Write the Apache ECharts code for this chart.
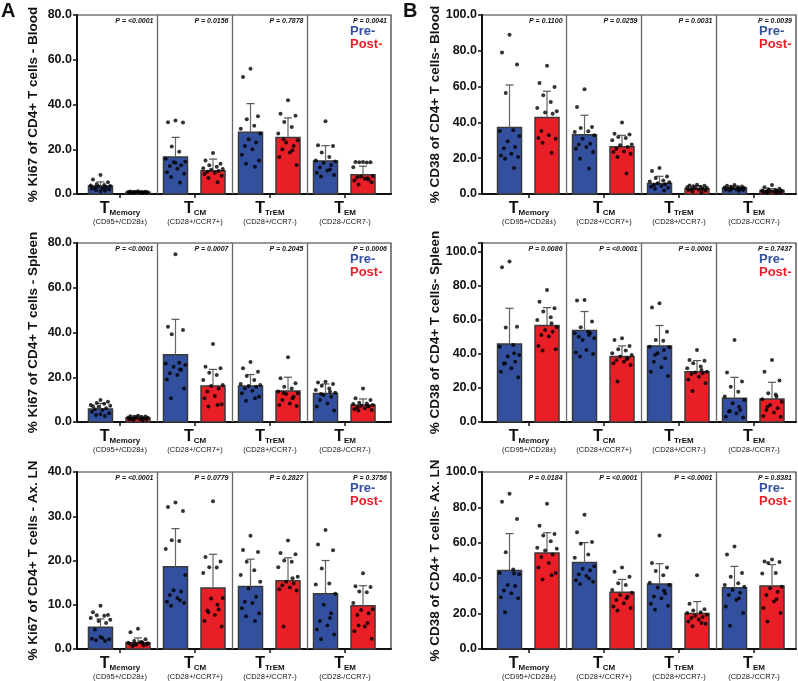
<!DOCTYPE html>
<html>
<head>
<meta charset="utf-8">
<script src="https://cdn.jsdelivr.net/npm/echarts@6/dist/echarts.min.js"></script>
<style>
  html, body { margin: 0; padding: 0; background: #fff; }
  #chart { width: 798px; height: 681px; }
</style>
</head>
<body>
<div id="chart"></div>
<script>
// ---- data ----
const subsets = ['Memory', 'CM', 'TrEM', 'EM'];
const phenotypes = ['(CD95+/CD28±)', '(CD28+/CCR7+)', '(CD28+/CCR7-)', '(CD28-/CCR7-)'];

// panel order: A-blood, B-blood, A-spleen, B-spleen, A-LN, B-LN
const yTitles = [
  '% Ki67 of CD4+ T cells - Blood', '% CD38 of CD4+ T cells- Blood',
  '% Ki67 of CD4+ T cells - Spleen', '% CD38 of CD4+ T cells- Spleen',
  '% Ki67 of CD4+ T cells - Ax. LN', '% CD38 of CD4+ T cells- Ax. LN'
];
const yMax = [80, 100, 80, 105, 40, 100];
const yStep = [20, 20, 20, 20, 10, 20];

const pValues = [
  ['<0.0001', '0.0156', '0.7878', '0.0041'],
  ['0.1100', '0.0259', '0.0031', '0.0039'],
  ['<0.0001', '0.0007', '0.2045', '0.0006'],
  ['0.0086', '<0.0001', '0.0001', '0.7437'],
  ['<0.0001', '0.0779', '0.2827', '0.3756'],
  ['0.0184', '<0.0001', '<0.0001', '0.8381']
];

const preMean = [
  [3.6, 16.5, 27.6, 14.8], [37.1, 33.1, 5.8, 3.3],
  [5.8, 30.1, 16.1, 12.7], [45.8, 53.6, 44.6, 13.9],
  [4.9, 18.6, 14.1, 12.5], [44.3, 48.8, 36.7, 34.6]
];
const preSD = [
  [1.8, 8.8, 12.8, 6.8], [23.8, 10.9, 4.1, 1.1],
  [2.5, 15.8, 5.1, 4.3], [20.9, 11.2, 12.0, 12.3],
  [1.9, 8.6, 6.2, 7.5], [20.9, 11.3, 11.5, 12.1]
];
const postMean = [
  [0.8, 10.4, 25.3, 8.6], [42.8, 26.4, 3.0, 1.9],
  [1.8, 16.1, 13.9, 7.6], [56.6, 38.4, 29.5, 13.5],
  [1.4, 13.8, 15.4, 9.8], [54.2, 32.0, 20.1, 35.6]
];
const postSD = [
  [0.4, 5.2, 8.7, 3.8], [14.6, 6.4, 1.5, 1.1],
  [0.9, 7.4, 6.1, 2.7], [10.5, 6.2, 6.5, 9.8],
  [1.1, 7.6, 5.2, 4.5], [11.5, 7.3, 6.7, 12.1]
];

const ki67BloodPre = [
  [8.5, 6.5, 5.2, 4.4, 4.0, 3.8, 3.6, 3.3, 3.0, 2.8, 2.6, 2.4, 2.0, 1.8, 1.5, 1.2],
  [32.8, 32.1, 31.9, 21.2, 18.9, 15.8, 14.4, 14.2, 12.8, 12.5, 11.3, 9.7, 9.0, 7.6, 5.1, 14.0],
  [56.0, 52.3, 34.7, 33.4, 30.5, 29.2, 27.0, 24.5, 23.0, 21.5, 20.0, 17.5, 15.0, 13.5, 12.2],
  [32.5, 21.8, 21.5, 18.5, 16.5, 15.0, 14.5, 13.8, 13.0, 11.8, 10.5, 9.5, 8.5, 7.8, 11.0]
];
const ki67BloodPost = [
  [1.2, 1.1, 1.0, 1.0, 0.9, 0.9, 0.8, 0.8, 0.8, 0.7, 0.7, 0.6, 0.6, 0.5, 0.5],
  [18.3, 15.0, 13.5, 12.8, 12.2, 11.5, 11.2, 10.8, 10.3, 10.0, 9.5, 8.9, 8.2, 7.2, 5.2],
  [41.9, 35.9, 35.0, 32.2, 30.0, 27.0, 24.0, 23.0, 21.5, 20.0, 18.5, 16.5, 13.0, 24.5, 19.5],
  [14.3, 14.3, 14.2, 14.2, 14.1, 12.0, 8.0, 7.8, 6.5, 7.5, 6.8, 6.0, 5.2, 4.2, 7.0]
];
const cd38BloodPre = [
  [89.0, 79.1, 72.4, 56.4, 35.6, 35.2, 32.4, 29.4, 26.3, 25.5, 22.5, 21.5, 20.7, 19.7, 14.5],
  [58.5, 48.6, 37.4, 36.9, 35.0, 34.6, 32.8, 30.9, 28.1, 27.7, 26.3, 25.3, 23.5, 19.7, 14.2],
  [14.5, 12.8, 9.8, 9.0, 7.5, 7.0, 6.5, 6.0, 5.5, 5.0, 4.5, 4.0, 3.5, 3.0, 2.0],
  [5.0, 4.6, 4.2, 4.0, 3.8, 3.6, 3.4, 3.2, 3.0, 2.8, 2.6, 2.4, 2.2, 2.0, 1.8]
];
const cd38BloodPost = [
  [71.7, 62.0, 59.8, 55.1, 51.4, 48.0, 46.2, 45.5, 44.9, 35.2, 32.8, 31.3, 30.9, 28.7, 23.1],
  [39.9, 33.7, 33.3, 31.8, 31.3, 30.0, 27.6, 27.2, 26.3, 25.3, 23.8, 23.5, 22.5, 20.7, 11.4],
  [5.2, 4.8, 4.6, 4.3, 4.0, 3.8, 3.5, 3.2, 3.0, 2.8, 2.5, 2.2, 2.0, 1.5, 1.0],
  [5.0, 3.8, 3.0, 2.6, 2.2, 2.0, 1.8, 1.6, 1.5, 1.3, 1.2, 1.0, 0.8, 0.6, 0.5]
];
const ki67SpleenPre = [
  [9.8, 7.0, 9.1, 8.5, 8.2, 7.6, 7.3, 6.8, 6.1, 5.7, 5.4, 4.6, 3.9, 3.1, 2.7, 3.5],
  [75.0, 42.6, 41.1, 39.2, 26.5, 26.2, 25.5, 24.7, 23.3, 21.8, 21.0, 19.0, 15.0, 10.6, 23.5],
  [26.8, 24.0, 22.5, 20.6, 18.8, 17.0, 16.5, 16.1, 15.8, 15.0, 14.0, 12.8, 11.3, 9.5, 10.6],
  [18.0, 17.6, 17.0, 16.2, 15.0, 14.3, 13.1, 12.1, 11.3, 9.8, 8.3, 6.9, 5.1, 12.5, 13.6]
];
const ki67SpleenPost = [
  [2.8, 2.6, 2.5, 2.3, 2.2, 2.0, 1.9, 1.8, 1.6, 1.5, 1.3, 1.2, 1.0, 0.9, 0.7],
  [34.9, 24.7, 24.0, 22.0, 21.0, 18.8, 16.5, 16.1, 15.0, 13.6, 11.6, 10.6, 7.9, 6.9, 7.6],
  [28.9, 19.5, 17.3, 15.8, 15.0, 13.6, 12.8, 12.5, 11.3, 9.8, 8.3, 7.6, 7.2, 13.0, 10.6],
  [15.0, 10.6, 9.8, 8.6, 8.3, 8.0, 7.6, 7.3, 6.9, 6.6, 6.1, 5.7, 5.4, 5.1, 7.2]
];
const cd38SpleenPre = [
  [94.1, 90.8, 55.8, 55.5, 45.2, 44.2, 39.3, 38.4, 35.4, 34.1, 31.5, 29.5, 26.2, 34.4, 40.3],
  [71.6, 71.2, 58.9, 55.6, 53.0, 52.1, 49.1, 48.1, 52.0, 50.0, 42.3, 40.7, 39.9, 38.4, 51.1],
  [69.7, 67.1, 53.0, 48.1, 47.7, 44.2, 43.8, 40.3, 37.4, 35.4, 32.1, 29.5, 27.0, 39.3, 42.3],
  [48.1, 29.0, 23.7, 20.7, 17.8, 14.9, 12.9, 11.0, 7.0, 6.1, 5.1, 3.1, 2.7, 6.5, 9.0]
];
const cd38SpleenPost = [
  [77.5, 70.6, 66.7, 64.8, 61.4, 59.9, 55.6, 54.0, 53.0, 51.1, 50.1, 44.6, 42.7, 41.9, 57.9],
  [49.1, 48.1, 44.6, 42.7, 41.9, 40.3, 39.3, 38.4, 37.4, 36.4, 35.4, 34.4, 33.5, 23.7, 37.0],
  [42.3, 36.4, 36.0, 34.4, 32.5, 31.5, 29.5, 29.0, 28.6, 28.2, 26.6, 25.0, 22.7, 18.2, 30.5],
  [36.4, 29.5, 24.3, 16.8, 16.2, 13.3, 11.9, 10.0, 8.0, 7.0, 5.5, 3.5, 3.1, 9.0, 14.9]
];
const ki67LnPre = [
  [9.8, 8.3, 7.7, 7.6, 7.5, 7.0, 6.6, 6.3, 5.9, 4.4, 2.5, 2.3, 2.2, 2.0, 1.8, 2.7],
  [33.1, 32.1, 31.2, 24.6, 24.4, 22.6, 16.7, 13.3, 13.0, 12.2, 11.5, 10.7, 10.4, 9.8, 11.0],
  [25.6, 22.4, 21.9, 19.7, 17.8, 16.7, 15.2, 13.7, 11.8, 10.7, 10.4, 9.2, 8.1, 7.4, 6.3],
  [26.9, 23.6, 22.3, 18.2, 14.8, 14.6, 12.5, 10.0, 8.1, 6.3, 5.3, 4.4, 3.3, 2.2, 7.0]
];
const ki67LnPost = [
  [4.6, 3.8, 2.2, 1.8, 1.6, 1.4, 1.3, 1.0, 0.8, 0.7, 1.5, 1.2, 1.1, 0.9, 1.4],
  [33.4, 20.8, 19.8, 18.5, 18.4, 17.2, 11.5, 11.4, 8.9, 8.7, 7.7, 6.3, 5.1, 8.3, 10.0],
  [24.5, 21.7, 21.4, 20.0, 19.7, 18.5, 16.3, 15.2, 14.8, 14.4, 13.9, 13.5, 13.2, 5.1, 16.0],
  [17.1, 14.2, 14.0, 13.0, 12.8, 10.4, 9.0, 8.8, 8.1, 7.7, 5.1, 4.0, 2.3, 5.3, 5.9]
];
const cd38LnPre = [
  [87.7, 83.2, 73.4, 54.7, 44.9, 43.0, 42.3, 36.1, 35.6, 33.0, 31.5, 29.2, 28.7, 20.7, 42.6],
  [75.8, 65.9, 60.5, 59.4, 53.4, 51.6, 46.7, 45.4, 44.5, 42.3, 41.2, 38.9, 38.0, 36.7, 39.9],
  [64.1, 48.6, 46.0, 44.1, 41.7, 37.4, 36.1, 34.8, 31.5, 29.6, 28.7, 25.5, 24.4, 22.2, 33.0],
  [57.9, 53.4, 43.0, 40.8, 37.1, 36.1, 35.2, 33.3, 31.8, 30.5, 27.7, 24.0, 20.3, 13.2, 28.7]
];
const cd38LnPost = [
  [82.1, 69.6, 65.0, 64.1, 60.9, 57.2, 56.6, 55.7, 53.4, 52.0, 48.6, 46.0, 43.0, 39.3, 41.7],
  [46.0, 43.6, 40.8, 37.1, 36.1, 33.3, 31.8, 30.5, 29.6, 27.7, 25.9, 24.0, 23.1, 21.8, 28.7],
  [41.7, 25.5, 22.5, 21.8, 20.7, 20.3, 19.4, 18.8, 18.1, 17.5, 16.6, 15.6, 14.3, 12.8, 14.7],
  [50.5, 49.5, 49.2, 48.6, 43.0, 42.6, 35.2, 34.3, 32.4, 30.5, 26.8, 23.1, 20.3, 15.6, 28.1]
];

const prePoints = [ki67BloodPre, cd38BloodPre, ki67SpleenPre, cd38SpleenPre, ki67LnPre, cd38LnPre];
const postPoints = [ki67BloodPost, cd38BloodPost, ki67SpleenPost, cd38SpleenPost, ki67LnPost, cd38LnPost];

// ---- layout / style ----
const FONT = '"Liberation Sans", Arial, Helvetica, sans-serif';
const BLUE = '#33509f';
const RED = '#e81f27';
const INK = '#111';
const ROW_TOP = [15, 243, 472];
const COL_LEFT = [77, 482];
const X_RANGE = [[-0.573, 3.613], [-0.627, 3.56]];
const BAR_W = 0.32;
const PRE_OFF = -0.26, POST_OFF = 0.24;
const JITTER = [0, -0.1, 0.1, -0.05, 0.05, -0.13, 0.13, -0.025, 0.075, -0.075, 0.025, -0.115, 0.115, -0.06, 0.06, 0.0];

const chart = echarts.init(document.getElementById('chart'), null, { renderer: 'canvas' });

function barRenderer(color) {
  return function (params, api) {
    const x = api.value(0), y = api.value(1);
    const tl = api.coord([x - BAR_W / 2, y]);
    const br = api.coord([x + BAR_W / 2, 0]);
    return {
      type: 'rect',
      shape: { x: tl[0], y: tl[1], width: br[0] - tl[0], height: br[1] - tl[1] },
      style: { fill: color, stroke: '#3a3a3a', lineWidth: 1.5 }
    };
  };
}

function errRenderer(params, api) {
  const x = api.value(0), m = api.value(1), sd = api.value(2);
  const b = api.coord([x, m]), t = api.coord([x, m + sd]);
  return {
    type: 'group',
    children: [
      { type: 'line', shape: { x1: b[0], y1: b[1], x2: t[0], y2: t[1] }, style: { stroke: '#666', lineWidth: 1.2 } },
      { type: 'line', shape: { x1: t[0] - 4, y1: t[1], x2: t[0] + 4, y2: t[1] }, style: { stroke: '#555', lineWidth: 1.2 } }
    ]
  };
}

const grids = [], xAxes = [], yAxes = [], series = [], legends = [];

for (let p = 0; p < 6; p++) {
  const col = p % 2, row = Math.floor(p / 2);
  const xr = X_RANGE[col];
  const top = yMax[p];

  grids.push({
    left: COL_LEFT[col], top: ROW_TOP[row], width: 314, height: 179,
    show: true, borderColor: '#333', borderWidth: 1.2
  });

  xAxes.push({
    type: 'value', gridIndex: p, min: xr[0], max: xr[1],
    splitLine: { show: false },
    axisLine: { show: true, onZero: false, lineStyle: { color: INK, width: 2 } },
    axisTick: { show: true, customValues: [0, 1, 2, 3], length: 4, lineStyle: { color: INK, width: 1.5 } },
    axisLabel: {
      customValues: [0, 1, 2, 3],
      margin: 7,
      formatter: v => `{t|T}{s|${subsets[Math.round(v)]}}\n{p|${phenotypes[Math.round(v)]}}`,
      rich: {
        t: { fontFamily: FONT, fontSize: 16, fontWeight: 'bold', color: INK, lineHeight: 16 },
        s: { fontFamily: FONT, fontSize: 8, fontWeight: 'bold', color: INK, lineHeight: 9, verticalAlign: 'bottom' },
        p: { fontFamily: FONT, fontSize: 7.5, color: INK, lineHeight: 10 }
      }
    }
  });

  yAxes.push({
    type: 'value', gridIndex: p, min: 0, max: top, interval: yStep[p],
    splitLine: { show: false },
    axisLine: { show: true, onZero: false, lineStyle: { color: INK, width: 2 } },
    axisTick: { show: true, length: 4, lineStyle: { color: INK, width: 1.5 } },
    axisLabel: {
      margin: 5,
      fontFamily: FONT, fontSize: 12.5, fontWeight: 'bold', color: INK,
      formatter: v => (v % yStep[p] === 0 ? v.toFixed(1) : '')
    },
    name: yTitles[p], nameLocation: 'middle', nameGap: col ? 39 : 37,
    nameTextStyle: { fontFamily: FONT, fontSize: 13.5, fontWeight: 'bold', color: INK }
  });

  const preBars = subsets.map((_, i) => [i + PRE_OFF, preMean[p][i]]);
  const postBars = subsets.map((_, i) => [i + POST_OFF, postMean[p][i]]);
  const errs = subsets.map((_, i) => [i + PRE_OFF, preMean[p][i], preSD[p][i]])
    .concat(subsets.map((_, i) => [i + POST_OFF, postMean[p][i], postSD[p][i]]));
  const dots = [];
  subsets.forEach((_, i) => {
    prePoints[p][i].forEach((v, k) => dots.push([i + PRE_OFF + JITTER[k % JITTER.length], v]));
    postPoints[p][i].forEach((v, k) => dots.push([i + POST_OFF + JITTER[k % JITTER.length], v]));
  });

  const ax = { xAxisIndex: p, yAxisIndex: p };

  series.push(Object.assign({
    type: 'custom', name: 'Pre-', renderItem: barRenderer(BLUE), data: preBars, z: 2, silent: true,
    itemStyle: { color: BLUE }, encode: { x: 0, y: 1 }
  }, ax));
  series.push(Object.assign({
    type: 'custom', name: 'Post-', renderItem: barRenderer(RED), data: postBars, z: 2, silent: true,
    itemStyle: { color: RED }, encode: { x: 0, y: 1 }
  }, ax));
  series.push(Object.assign({
    type: 'custom', name: 'sd', renderItem: errRenderer, data: errs, z: 3, silent: true,
    encode: { x: 0, y: 1 }
  }, ax));
  series.push(Object.assign({
    type: 'scatter', name: 'points', data: dots, symbolSize: 4, z: 4, silent: true,
    itemStyle: { color: '#000' }
  }, ax));
  // group dividers
  series.push(Object.assign({
    type: 'custom', name: 'dividers', data: [[0.5, 0], [1.5, 0], [2.5, 0]], z: 1, silent: true,
    encode: { x: 0, y: 1 },
    renderItem: (params, api) => {
      const x = api.value(0);
      const a = api.coord([x, 0]), b = api.coord([x, top]);
      return { type: 'line', shape: { x1: a[0], y1: a[1], x2: b[0], y2: b[1] }, style: { stroke: '#666', lineWidth: 1.3 } };
    }
  }, ax));
  // P values
  series.push(Object.assign({
    type: 'custom', name: 'pvals', z: 5, silent: true,
    data: subsets.map((_, i) => [i < 3 ? i + 0.5 : xr[1], top, i]),
    encode: { x: 0, y: 1 },
    renderItem: (params, api) => {
      const c = api.coord([api.value(0), api.value(1)]);
      const i = api.value(2);
      return {
        type: 'text', x: c[0] - 4, y: c[1] + 3,
        style: {
          text: 'P = ' + pValues[p][i], align: 'right', verticalAlign: 'top',
          fontFamily: FONT, fontSize: 7, fontWeight: 'bold', fontStyle: 'italic', fill: INK
        }
      };
    }
  }, ax));

  legends.push({
    orient: 'vertical', left: col ? 754 : 345, top: ROW_TOP[row] + 10,
    icon: 'none', itemWidth: 0, itemHeight: 0, itemGap: 0, padding: 0, selectedMode: false,
    textStyle: { fontFamily: FONT, fontSize: 13, fontWeight: 'bold' },
    data: [
      { name: 'Pre-', textStyle: { color: BLUE } },
      { name: 'Post-', textStyle: { color: RED } }
    ]
  });
}

chart.setOption({
  animation: false,
  backgroundColor: '#fff',
  title: [
    { text: 'A', left: 1, top: 1, padding: 0, textStyle: { fontFamily: FONT, fontSize: 20, fontWeight: 'bold', color: INK } },
    { text: 'B', left: 403, top: 1, padding: 0, textStyle: { fontFamily: FONT, fontSize: 20, fontWeight: 'bold', color: INK } }
  ],
  legend: legends,
  grid: grids,
  xAxis: xAxes,
  yAxis: yAxes,
  series: series
});
</script>
</body>
</html>
